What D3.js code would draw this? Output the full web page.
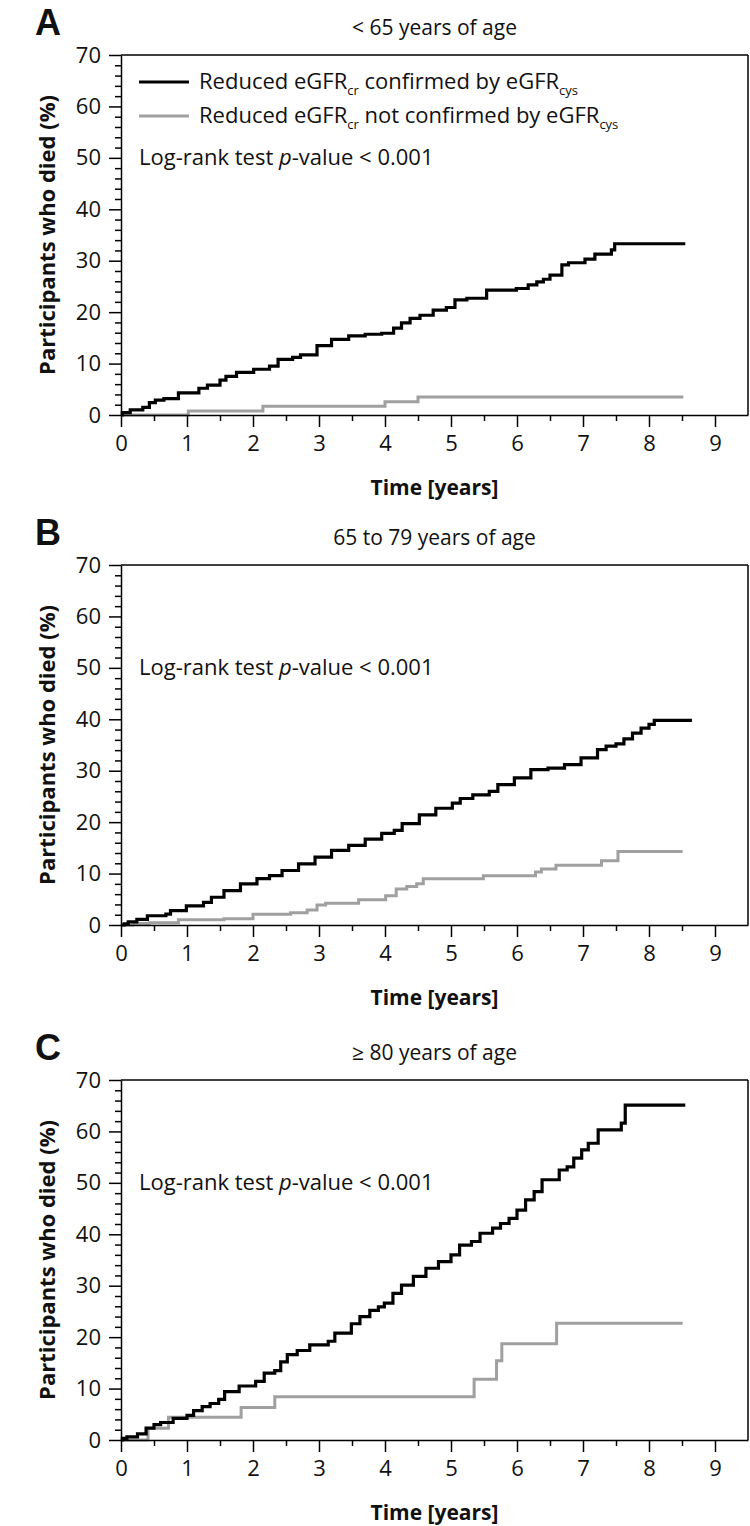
<!DOCTYPE html>
<html>
<head>
<meta charset="utf-8">
<script src="https://cdn.jsdelivr.net/npm/d3@7"></script>
<style>
  html, body { margin: 0; padding: 0; background: #fff; }
  svg { display: block; }
  text { font-family: "Open Sans", "Noto Sans", sans-serif; fill: #111; }
  text.panel-letter { font-family: "Liberation Sans", Arial, sans-serif; }
</style>
</head>
<body>
<svg id="chart" width="750" height="1526"></svg>
<script>
// ---------------- data ----------------
const panelLetters = ["A", "B", "C"];
const panelTitles = ["< 65 years of age", "65 to 79 years of age", "\u2265 80 years of age"];
const xTicks = [0, 1, 2, 3, 4, 5, 6, 7, 8, 9];
const yTicks = [0, 10, 20, 30, 40, 50, 60, 70];

// Panel A (< 65 years)
const aConfTime = [0, 0.02, 0.14, 0.33, 0.43, 0.52, 0.65, 0.87, 1.18, 1.31, 1.5, 1.59, 1.75, 2.01, 2.25, 2.38, 2.6, 2.72, 2.97, 3.19, 3.45, 3.7, 3.95, 4.13, 4.25, 4.38, 4.53, 4.73, 4.93, 5.06, 5.24, 5.54, 5.99, 6.17, 6.3, 6.4, 6.5, 6.68, 6.78, 7.03, 7.18, 7.43, 7.48, 8.55];
const aConfPct  = [0, 0.45, 1.0, 1.5, 2.4, 2.9, 3.2, 4.3, 5.2, 5.8, 6.8, 7.5, 8.3, 8.9, 9.5, 10.8, 11.2, 11.7, 13.5, 14.7, 15.4, 15.7, 15.9, 16.9, 17.9, 18.8, 19.4, 20.4, 20.9, 22.4, 22.7, 24.3, 24.6, 25.3, 25.9, 26.4, 27.2, 29.2, 29.6, 30.3, 31.3, 32.1, 33.3, 33.3];
const aNotTime = [0, 1.02, 2.15, 4.0, 4.5, 8.52];
const aNotPct  = [0, 0.8, 1.7, 2.6, 3.5, 3.5];

// Panel B (65 to 79 years)
const bConfTime = [0, 0.05, 0.11, 0.24, 0.4, 0.68, 0.75, 0.99, 1.25, 1.37, 1.56, 1.81, 2.06, 2.25, 2.44, 2.69, 2.94, 3.19, 3.45, 3.7, 3.95, 4.14, 4.26, 4.52, 4.77, 5.02, 5.14, 5.33, 5.58, 5.71, 5.96, 6.21, 6.47, 6.72, 6.97, 7.22, 7.35, 7.5, 7.62, 7.75, 7.88, 8.0, 8.08, 8.65];
const bConfPct  = [0, 0.2, 0.6, 1.1, 1.8, 2.1, 2.8, 3.7, 4.4, 5.4, 6.7, 8.0, 9.0, 9.6, 10.6, 11.9, 13.2, 14.5, 15.5, 16.7, 17.8, 18.4, 19.7, 21.4, 22.7, 23.7, 24.6, 25.3, 26.0, 27.3, 28.6, 30.2, 30.5, 31.2, 32.5, 34.1, 34.8, 35.2, 36.2, 37.3, 38.3, 39.0, 39.8, 39.8];
const bNotTime = [0, 0.18, 0.43, 0.87, 1.56, 2.0, 2.57, 2.82, 2.97, 3.1, 3.6, 4.01, 4.17, 4.33, 4.48, 4.58, 5.49, 6.28, 6.37, 6.59, 7.28, 7.53, 8.51];
const bNotPct  = [0, 0.3, 0.46, 1.0, 1.2, 2.1, 2.4, 2.9, 3.9, 4.25, 4.9, 5.7, 7.0, 7.5, 8.0, 9.0, 9.6, 10.3, 10.9, 11.6, 12.5, 14.3, 14.3];

// Panel C (>= 80 years)
const cConfTime = [0, 0.02, 0.09, 0.25, 0.38, 0.5, 0.6, 0.79, 1.0, 1.1, 1.23, 1.35, 1.48, 1.57, 1.79, 2.04, 2.17, 2.33, 2.42, 2.52, 2.67, 2.86, 3.14, 3.24, 3.49, 3.62, 3.77, 3.9, 3.99, 4.12, 4.25, 4.43, 4.62, 4.81, 5.0, 5.13, 5.31, 5.44, 5.63, 5.75, 5.88, 6.0, 6.13, 6.26, 6.38, 6.64, 6.76, 6.86, 6.98, 7.08, 7.23, 7.58, 7.64, 8.55];
const cConfPct  = [0, 0.3, 0.6, 1.2, 2.3, 3.0, 3.4, 4.2, 4.8, 5.7, 6.5, 7.1, 7.9, 9.4, 10.5, 11.4, 13.0, 13.5, 15.2, 16.6, 17.4, 18.5, 19.2, 20.8, 22.6, 24.0, 25.2, 25.9, 26.6, 28.5, 30.1, 31.8, 33.4, 34.7, 36.0, 37.9, 38.6, 40.2, 41.2, 42.1, 43.1, 44.7, 46.7, 48.3, 50.6, 52.5, 53.1, 54.8, 56.4, 57.7, 60.3, 61.6, 65.1, 65.1];
const cNotTime = [0, 0.41, 0.72, 1.82, 2.33, 5.35, 5.69, 5.77, 6.6, 8.51];
const cNotPct  = [0, 2.3, 4.4, 6.3, 8.4, 11.8, 15.4, 18.7, 22.7, 22.7];

// ---------------- layout ----------------
const FONT = 22;
const panelTop = [0, 510, 1025];
const plotLeft = 121, plotRight = 748, plotTop = 55, plotBottom = 415;
const colors = { confirmed: "#000000", notConfirmed: "#a0a0a0" };

const panels = [
  { conf: [aConfTime, aConfPct], not: [aNotTime, aNotPct], legend: true },
  { conf: [bConfTime, bConfPct], not: [bNotTime, bNotPct], legend: false },
  { conf: [cConfTime, cConfPct], not: [cNotTime, cNotPct], legend: false }
];

const svg = d3.select("#chart");
const x = d3.scaleLinear().domain([0, 9.5]).range([plotLeft, plotRight]);
const y = d3.scaleLinear().domain([0, 70]).range([plotBottom, plotTop]);
const toPts = (t, v) => t.map((d, i) => [d, v[i]]);
const line = d3.line().x(d => x(d[0])).y(d => y(d[1])).curve(d3.curveStepAfter);

panels.forEach((p, i) => {
  const g = svg.append("g").attr("transform", `translate(0,${panelTop[i]})`);

  // letter
  g.append("text").attr("class", "panel-letter").attr("x", 35).attr("y", 35)
    .attr("font-size", 36).attr("font-weight", "bold").text(panelLetters[i]);
  // title
  g.append("text").attr("x", (plotLeft + plotRight) / 2).attr("y", 35)
    .attr("text-anchor", "middle").attr("font-size", 21).text(panelTitles[i]);

  // curves
  g.append("path").datum(toPts(p.not[0], p.not[1])).attr("d", line)
    .attr("fill", "none").attr("stroke", colors.notConfirmed).attr("stroke-width", 3);
  g.append("path").datum(toPts(p.conf[0], p.conf[1])).attr("d", line)
    .attr("fill", "none").attr("stroke", colors.confirmed).attr("stroke-width", 3.2);

  // box top/right
  g.append("line").attr("x1", plotLeft).attr("x2", plotRight).attr("y1", plotTop).attr("y2", plotTop)
    .attr("stroke", "#000").attr("stroke-width", 1.5);
  g.append("line").attr("x1", plotRight).attr("x2", plotRight).attr("y1", plotTop).attr("y2", plotBottom)
    .attr("stroke", "#000").attr("stroke-width", 1.5);

  // x axis
  const xAxis = d3.axisBottom(x).tickValues(xTicks).tickSize(12).tickSizeOuter(0).tickPadding(8).tickFormat(d3.format("d"));
  const xg = g.append("g").attr("transform", `translate(0,${plotBottom})`).call(xAxis);
  const xMinor = d3.axisBottom(x).tickValues(d3.range(0.5, 9.5, 1)).tickSize(6).tickSizeOuter(0).tickFormat("");
  const xmg = g.append("g").attr("transform", `translate(0,${plotBottom})`).call(xMinor);
  xmg.select(".domain").remove();

  // y axis
  const yAxis = d3.axisLeft(y).tickValues(yTicks).tickSize(12).tickSizeOuter(0).tickPadding(8);
  const yg = g.append("g").attr("transform", `translate(${plotLeft},0)`).call(yAxis);
  const yMinor = d3.axisLeft(y).tickValues(d3.range(2, 70, 2).filter(v => v % 10 !== 0)).tickSize(6).tickFormat("");
  const ymg = g.append("g").attr("transform", `translate(${plotLeft},0)`).call(yMinor);
  ymg.select(".domain").remove();

  [xg, yg, xmg, ymg].forEach(a => {
    a.selectAll("path,line").attr("stroke", "#000").attr("stroke-width", 1.5);
    a.selectAll("text").attr("font-size", FONT).attr("font-family", null).attr("fill", "#111");
  });

  // axis titles
  g.append("text").attr("x", (plotLeft + plotRight) / 2).attr("y", 495)
    .attr("text-anchor", "middle").attr("font-size", 21).attr("font-weight", "bold").text("Time [years]");
  g.append("text").attr("transform", `translate(55,${(plotTop + plotBottom) / 2}) rotate(-90)`)
    .attr("text-anchor", "middle").attr("font-size", 22).attr("font-weight", "bold")
    .text("Participants who died (%)");

  // log-rank
  const lr = g.append("text").attr("x", 139).attr("y", y(50) + 7).attr("font-size", FONT);
  lr.append("tspan").text("Log-rank test ");
  lr.append("tspan").attr("font-style", "italic").text("p");
  lr.append("tspan").text("-value < 0.001");

  // legend
  if (p.legend) {
    const rows = [
      { key: "confirmed", yy: 82, mid: " confirmed by eGFR" },
      { key: "notConfirmed", yy: 116, mid: " not confirmed by eGFR" }
    ];
    rows.forEach(r => {
      g.append("line").attr("x1", 139).attr("x2", 189).attr("y1", r.yy).attr("y2", r.yy)
        .attr("stroke", colors[r.key]).attr("stroke-width", 3.2);
      const t = g.append("text").attr("x", 199).attr("y", r.yy + 7).attr("font-size", FONT);
      t.append("tspan").text("Reduced eGFR");
      t.append("tspan").attr("font-size", 13).attr("dy", 6).text("cr");
      t.append("tspan").attr("dy", -6).text(r.mid);
      t.append("tspan").attr("font-size", 13).attr("dy", 6).text("cys");
    });
  }
});
</script>
</body>
</html>
